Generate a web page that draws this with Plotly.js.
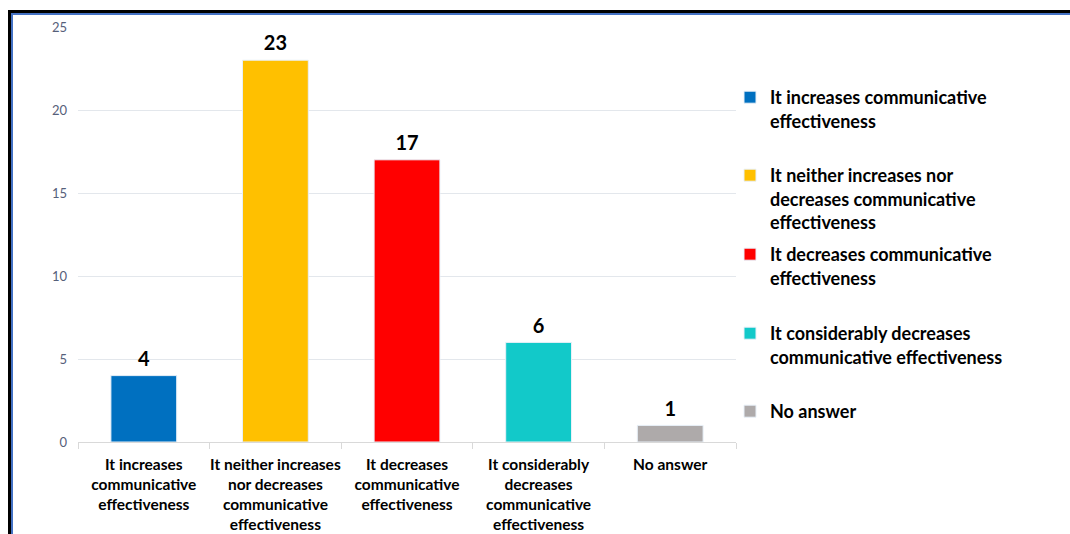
<!DOCTYPE html>
<html>
<head>
<meta charset="utf-8">
<script src="https://cdn.plot.ly/plotly-3.0.1.min.js"></script>
<style>
  html, body { margin: 0; padding: 0; background: #ffffff; }
  #chart { position: absolute; left: 0; top: 0; width: 1070px; height: 534px; }
  #frame { position: absolute; left: 8px; top: 10px; width: 1070px; height: 540px;
           border-top: 3px solid #000; border-left: 3px solid #000; box-sizing: border-box;
           pointer-events: none; z-index: 5; }
  #frame2 { position: absolute; left: 0; top: 0; right: 0; bottom: 0;
            border-top: 2px solid #4472c4; border-left: 2px solid #4472c4; }
</style>
</head>
<body>
<div id="chart"></div>
<div id="frame"><div id="frame2"></div></div>
<script>
// ---- data ----
const categories = [
  "It increases<br>communicative<br>effectiveness",
  "It neither increases<br>nor decreases<br>communicative<br>effectiveness",
  "It decreases<br>communicative<br>effectiveness",
  "It considerably<br>decreases<br>communicative<br>effectiveness",
  "No answer"
];
const legendNames = [
  "It increases communicative<br>effectiveness",
  "It neither increases nor<br>decreases communicative<br>effectiveness",
  "It decreases communicative<br>effectiveness",
  "It considerably decreases<br>communicative effectiveness",
  "No answer"
];
const values = [4, 23, 17, 6, 1];
const colors = ["#0070c0", "#ffc000", "#ff0000", "#12c9c9", "#aeaaaa"];
const yTickVals = [0, 5, 10, 15, 20, 25];

// ---- traces ----
const legendIds = ["legend", "legend2", "legend3", "legend4", "legend5"];
const traces = categories.map((c, i) => ({
  type: "bar",
  x: [c],
  y: [values[i]],
  name: legendNames[i],
  width: 0.5,
  marker: { color: colors[i], line: { color: "#e8f0f8", width: 1 } },
  legend: legendIds[i],
  hoverinfo: "x+y"
}));
traces.push({
  type: "scatter",
  mode: "markers+text",
  x: categories,
  y: values,
  text: values.map(String),
  textposition: "top center",
  marker: { size: 6, color: "rgba(0,0,0,0)" },
  textfont: { family: "Lato, sans-serif", size: 20, color: "#000", weight: "bold" },
  showlegend: false,
  hoverinfo: "skip",
  cliponaxis: false
});

// ---- layout ----
const plotL = 78, plotR = 736, plotT = 27, plotB = 442;
const pxToPaperY = p => (plotB - p) / (plotB - plotT);
const pxToPaperX = p => (p - plotL) / (plotR - plotL);
const legendTops = [79, 157, 236, 315, 393];
const legendFont = { family: "Lato, sans-serif", size: 18, color: "#000", weight: "bold" };

const layout = {
  width: 1070, height: 534,
  margin: { l: plotL, r: 1070 - plotR, t: plotT, b: 534 - plotB },
  paper_bgcolor: "rgba(0,0,0,0)",
  plot_bgcolor: "rgba(0,0,0,0)",
  barmode: "overlay",
  showlegend: true,
  xaxis: {
    type: "category",
    tickson: "boundaries",
    ticks: "outside",
    ticklen: 6,
    tickcolor: "#d9d9d9",
    tickangle: 0,
    ticklabelstandoff: 8,
    showline: true,
    linecolor: "#d9d9d9",
    linewidth: 1,
    showgrid: false,
    automargin: false,
    tickfont: { family: "Lato, sans-serif", size: 15.5, color: "#000", weight: "bold" },
    fixedrange: true
  },
  yaxis: {
    range: [0, 25],
    tickvals: yTickVals,
    ticktext: yTickVals.map(String),
    showgrid: true,
    gridcolor: "#e3e7ec",
    gridwidth: 1,
    zeroline: false,
    showline: false,
    ticks: "",
    ticklabelstandoff: 10,
    automargin: false,
    tickfont: { family: "Lato, sans-serif", size: 13, color: "#56607a" },
    fixedrange: true
  }
};
legendIds.forEach((id, i) => {
  layout[id] = {
    x: pxToPaperX(730), xanchor: "left",
    y: pxToPaperY(legendTops[i]), yanchor: "top",
    bgcolor: "rgba(0,0,0,0)",
    borderwidth: 0,
    valign: "top",
    font: legendFont,
    itemclick: false, itemdoubleclick: false
  };
});

Plotly.newPlot("chart", traces, layout, { displayModeBar: false, staticPlot: true });
</script>
</body>
</html>
